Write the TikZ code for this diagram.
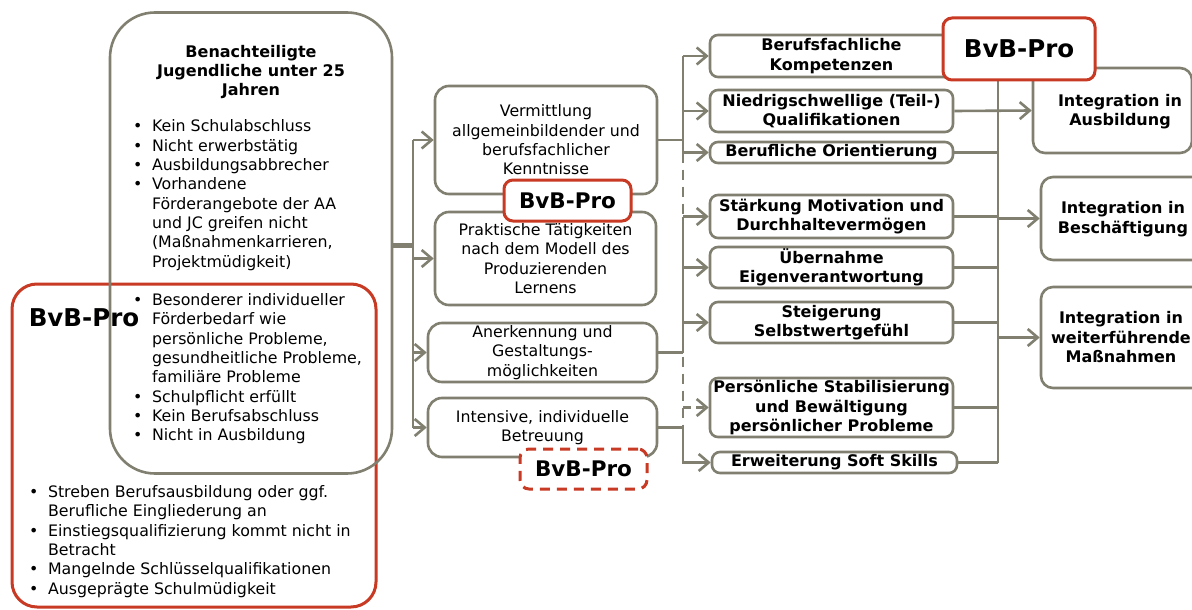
\documentclass[tikz,border=0pt]{standalone}
\usepackage{fontspec}
\setmainfont{DejaVu Sans}
\usetikzlibrary{arrows.meta}
\definecolor{gline}{RGB}{128,127,112}
\definecolor{bred}{RGB}{200,58,36}
\newcommand\myfn{\fontsize{15.8}{19.3}\selectfont}
\newcommand\myfb{\bfseries\fontsize{16}{19.5}\selectfont}
\newcommand\myhd{\bfseries\fontsize{16}{19}\selectfont}
\newcommand\myfbig{\bfseries\fontsize{24.5}{28}\selectfont}
\newcommand\myfmid{\bfseries\fontsize{21.5}{24}\selectfont}
\begin{document}
\begin{tikzpicture}[x=1pt,y=-1pt,
  gl/.style={draw=gline,line width=2.6pt},
  arr/.style={gl,-{Straight Barb[length=10pt,width=17pt]}},
  bigbox/.style={gl,rounded corners=45pt,inner sep=0pt},
  redbox/.style={draw=bred,line width=3pt,rounded corners=25pt,inner sep=0pt},
  mid/.style={gl,rounded corners=14pt,inner sep=0pt,align=center,font=\myfn},
  rbox/.style={gl,rounded corners=8pt,inner sep=0pt,align=center,font=\myfb},
  fbox/.style={gl,rounded corners=12pt,inner sep=0pt,align=center,font=\myfb},
  bvb/.style={draw=bred,line width=3pt,rounded corners=9pt,fill=white,inner sep=0pt},
  txt/.style={inner sep=0pt},
]
\clip (0,0) rectangle (1192,610);
\fill[white] (0,0) rectangle (1192,610);

% left boxes
\node[redbox,minimum width=364pt,minimum height=323pt] (redL) at (194,445.5) {};
\node[bigbox,minimum width=282pt,minimum height=461pt] (big) at (251,243) {};
\node[txt,font=\myfbig] (bvbL) at (84,318) {BvB-Pro};
\node[txt,font=\myhd,align=center] (hd) at (251,72) {Benachteiligte\\Jugendliche unter 25\\Jahren};
\node[txt,font=\myfn,anchor=west] (list1) at (133,282.5) {\begin{tabular}{@{}l@{\hspace{9.5pt}}l@{}}
•&Kein Schulabschluss\\
•&Nicht erwerbstätig\\
•&Ausbildungsabbrecher\\
•&Vorhandene\\
&Förderangebote der AA\\
&und JC greifen nicht\\
&(Maßnahmenkarrieren,\\
&Projektmüdigkeit)\\
&\\
•&Besonderer individueller\\
&Förderbedarf wie\\
&persönliche Probleme,\\
&gesundheitliche Probleme,\\
&familiäre Probleme\\
•&Schulpflicht erfüllt\\
•&Kein Berufsabschluss\\
•&Nicht in Ausbildung
\end{tabular}};
\node[txt,font=\myfn,anchor=west] (list2) at (29,542) {\begin{tabular}{@{}l@{\hspace{9.5pt}}l@{}}
•&Streben Berufsausbildung oder ggf.\\
&Berufliche Eingliederung an\\
•&Einstiegsqualifizierung kommt nicht in\\
&Betracht\\
•&Mangelnde Schlüsselqualifikationen\\
•&Ausgeprägte Schulmüdigkeit
\end{tabular}};

% middle boxes
\node[mid,minimum width=222pt,minimum height=108pt] (m1) at (546,140) {Vermittlung\\allgemeinbildender und\\berufsfachlicher\\Kenntnisse};
\node[mid,minimum width=221pt,minimum height=93pt] (m2) at (545.5,258.5) {Praktische Tätigkeiten\\nach dem Modell des\\Produzierenden\\Lernens};
\node[mid,minimum width=229pt,minimum height=59pt] (m3) at (542.5,352.5) {Anerkennung und\\Gestaltungs-\\möglichkeiten};
\node[mid,minimum width=229pt,minimum height=59pt] (m4) at (542.5,427.5) {Intensive, individuelle\\Betreuung};
\node[bvb,minimum width=127pt,minimum height=41pt,font=\myfmid] (bvbM) at (567.5,200.5) {BvB-Pro};
\node[bvb,dashed,dash pattern=on 10pt off 7pt,minimum width=127pt,minimum height=40pt,font=\myfmid] (bvbD) at (583.5,469) {BvB-Pro};

% right column boxes
\node[rbox,minimum width=243pt,minimum height=42pt] (r1) at (831.5,56) {Berufsfachliche\\Kompetenzen};
\node[rbox,minimum width=243pt,minimum height=42pt] (r2) at (831.5,111) {Niedrigschwellige (Teil-)\\Qualifikationen};
\node[rbox,minimum width=243pt,minimum height=21pt] (r3) at (831.5,152.5) {Berufliche Orientierung};
\node[rbox,minimum width=243pt,minimum height=43pt] (r4) at (831.5,216.5) {Stärkung Motivation und\\Durchhaltevermögen};
\node[rbox,minimum width=243pt,minimum height=41pt] (r5) at (831.5,267.5) {Übernahme\\Eigenverantwortung};
\node[rbox,minimum width=243pt,minimum height=41pt] (r6) at (831.5,322.5) {Steigerung\\Selbstwertgefühl};
\node[rbox,minimum width=243pt,minimum height=59pt] (r7) at (831.5,407.5) {Persönliche Stabilisierung\\und Bewältigung\\persönlicher Probleme};
\node[rbox,minimum width=245pt,minimum height=21pt] (r8) at (834.5,462.5) {Erweiterung Soft Skills};

% far right boxes
\node[fbox,minimum width=159pt,minimum height=85pt] (f1) at (1112.5,110.5) {};
\node[txt,font=\myfb,align=center] (f1t) at (1120,111.5) {Integration in\\Ausbildung};
\node[fbox,minimum width=170pt,minimum height=83pt] (f2) at (1126,218.5) {};
\node[txt,font=\myfb,align=center] (f2t) at (1123,219) {Integration in\\Beschäftigung};
\node[fbox,minimum width=170pt,minimum height=101pt] (f3) at (1126,337.5) {};
\node[txt,font=\myfb,align=center] (f3t) at (1121,337.5) {Integration in\\weiterführende\\Maßnahmen};

% connectors left
\coordinate (jl) at (413,245);
\draw[gl,line width=5pt] (big.east |- jl) -- (jl);
\draw[gl] (jl |- m1.west) -- (jl |- m4.west);
\draw[arr] (jl |- m1.west) -- (m1.west);
\draw[arr] (jl |- m2.west) -- (m2.west);
\draw[arr] (jl |- m3.west) -- (m3.west);
\draw[arr] (jl |- m4.west) -- (m4.west);

% connectors middle
\coordinate (jr) at (683,0);
\draw[gl] (m1.east) -- (jr |- m1.east);
\draw[gl] (jr |- r1.west) -- (jr |- r3.west);
\draw[arr] (jr |- r1.west) -- (r1.west);
\draw[arr] (jr |- r2.west) -- (r2.west);
\draw[arr] (jr |- r3.west) -- (r3.west);
\draw[gl,dash pattern=on 10pt off 7pt] (jr |- r3.west) -- (jr |- m4.east);
\draw[arr,dash pattern=on 8pt off 5pt] (jr |- r7.west) -- (r7.west);
\draw[gl] (m3.east) -- (jr |- m3.east);
\draw[gl] (jr |- r4.west) -- (jr |- m3.east);
\draw[arr] (jr |- r4.west) -- (r4.west);
\draw[arr] (jr |- r5.west) -- (r5.west);
\draw[arr] (jr |- r6.west) -- (r6.west);
\draw[arr] (m4.east) -- (jr |- m4.east) -- (jr |- r8.west) -- (r8.west);

% bus right
\coordinate (bus) at (998,49);
\draw[gl] (bus) -- (bus |- r8.east);
\draw[gl] (r3.east) -- (bus |- r3.east);
\draw[gl] (r4.east) -- (bus |- r4.east);
\draw[gl] (r5.east) -- (bus |- r5.east);
\draw[gl] (r6.east) -- (bus |- r6.east);
\draw[gl] (r7.east) -- (bus |- r7.east);
\draw[gl] (r8.east) -- (bus |- r8.east);
\draw[arr] (r2.east) -- (f1.west);
\draw[arr] (bus |- f2.west) -- (f2.west);
\draw[arr] (bus |- f3.west) -- (f3.west);

\node[bvb,minimum width=152pt,minimum height=62pt,font=\myfbig] (bvbR) at (1019,49) {BvB-Pro};
\end{tikzpicture}
\end{document}
